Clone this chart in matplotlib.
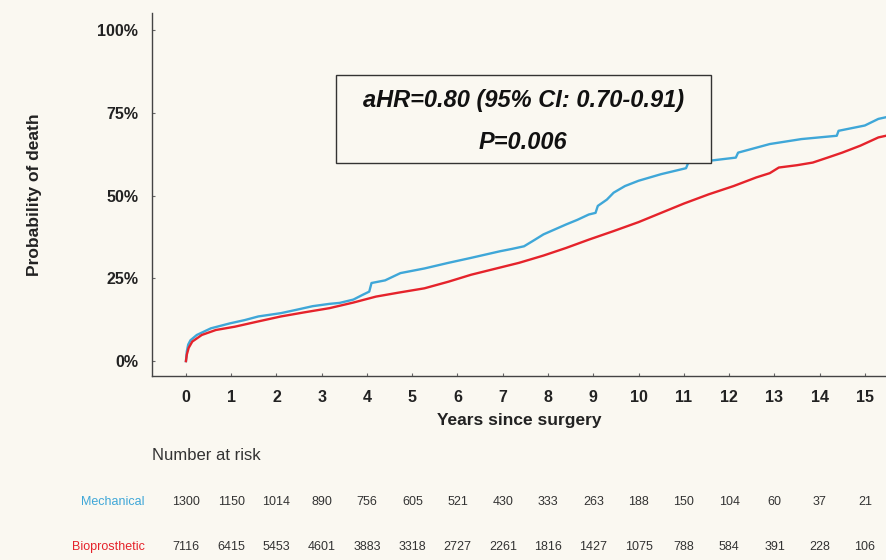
import matplotlib
matplotlib.use("Agg")
import matplotlib.pyplot as plt
from matplotlib.ticker import FuncFormatter
from matplotlib.patches import Rectangle

# ---- data ----
mech_t = [0, 0.02, 0.05, 0.1, 0.24, 0.55, 0.97, 1.3, 1.6, 2.1, 2.44, 2.8, 3.17, 3.4, 3.7, 3.9, 4.05, 4.1, 4.4,
          4.74, 5.27, 5.8, 6.3, 6.94, 7.2, 7.47, 7.7, 7.9, 8.15, 8.4, 8.65, 8.9, 9.05, 9.1, 9.3, 9.45, 9.7,
          10.0, 10.5, 11.05, 11.1, 11.6, 12.15, 12.2, 12.9, 13.6, 14.38, 14.42, 15.0, 15.3, 15.5]
mech_v = [0, 3.0, 5.0, 6.3, 7.9, 9.9, 11.4, 12.4, 13.5, 14.5, 15.5, 16.6, 17.3, 17.6, 18.6, 20.0, 21.0, 23.6, 24.4,
          26.6, 28.0, 29.7, 31.2, 33.2, 33.9, 34.7, 36.6, 38.3, 39.8, 41.3, 42.7, 44.3, 44.8, 46.9, 48.8, 50.9, 52.9,
          54.5, 56.5, 58.3, 60.0, 60.6, 61.5, 63.0, 65.6, 67.1, 68.1, 69.6, 71.2, 73.2, 73.8]

bio_t = [0, 0.02, 0.06, 0.14, 0.35, 0.66, 1.08, 1.6, 2.1, 2.6, 3.17, 3.7, 4.2, 4.7, 5.27, 5.8, 6.3, 6.8,
         7.36, 7.9, 8.4, 8.9, 9.45, 10.0, 10.5, 11.0, 11.55, 12.1, 12.6, 12.9, 13.1, 13.5, 13.85,
         14.2, 14.5, 14.9, 15.3, 15.5]
bio_v = [0, 2.0, 4.0, 5.9, 7.9, 9.4, 10.4, 12.0, 13.5, 14.7, 16.0, 17.7, 19.5, 20.7, 22.0, 24.0, 26.1, 27.8,
         29.7, 31.9, 34.2, 36.7, 39.3, 42.0, 44.8, 47.6, 50.4, 52.9, 55.5, 56.8, 58.5, 59.2, 60.0,
         61.6, 63.0, 65.1, 67.6, 68.2]

years = list(range(16))
risk_mech = [1300, 1150, 1014, 890, 756, 605, 521, 430, 333, 263, 188, 150, 104, 60, 37, 21]
risk_bio = [7116, 6415, 5453, 4601, 3883, 3318, 2727, 2261, 1816, 1427, 1075, 788, 584, 391, 228, 106]
yticks = [0, 25, 50, 75, 100]

BG = "#FAF8F1"
BLUE = "#3FA7D8"
RED = "#E5232B"
DARK = "#222222"

W, H = 887, 560
fig = plt.figure(figsize=(W / 100, H / 100), dpi=100, facecolor=BG)
ax = fig.add_axes([152 / W, 1 - 376 / H, 1 - 152 / W, (376 - 13) / H])
ax.set_facecolor(BG)

ax.plot(mech_t, mech_v, color=BLUE, lw=1.7, zorder=3, solid_joinstyle="round")
ax.plot(bio_t, bio_v, color=RED, lw=1.7, zorder=4, solid_joinstyle="round")

ax.set_xlim(-0.75, 15.49)
ax.set_ylim(-4.5, 105.2)
ax.set_xticks(years)
ax.set_yticks(yticks)
ax.yaxis.set_major_formatter(FuncFormatter(lambda v, p: f"{int(v)}%"))

for s in ["top", "right"]:
    ax.spines[s].set_visible(False)
for s in ["left", "bottom"]:
    ax.spines[s].set_color("#444444")
    ax.spines[s].set_linewidth(1.0)

ax.tick_params(axis="both", direction="in", length=2, width=0.8, color="#666666")
ax.tick_params(axis="y", pad=10)
ax.tick_params(axis="x", pad=10)
for lab in ax.get_xticklabels() + ax.get_yticklabels():
    lab.set_fontweight("bold")
    lab.set_fontsize(11.5)
    lab.set_color(DARK)
    lab.set_family("Liberation Sans")

ax.set_xlabel("Years since surgery", fontsize=12.5, fontweight="bold", color=DARK,
              family="Liberation Sans", labelpad=6)
fig.text(35 / W, 1 - 195 / H, "Probability of death", rotation=90, ha="center", va="center",
         fontsize=12.5, fontweight="bold", color=DARK, family="Liberation Sans")

# annotation box
ax.add_patch(Rectangle((3.31, 59.8), 11.6 - 3.31, 86.4 - 59.8, facecolor=BG,
                       edgecolor="#333333", lw=1.0, zorder=5))
ax.text(7.45, 78.9, "aHR=0.80 (95% CI: 0.70-0.91)", ha="center", va="center", fontsize=17,
        fontweight="bold", fontstyle="italic", color="#111111", family="Liberation Sans", zorder=6)
ax.text(7.45, 66.0, "P=0.006", ha="center", va="center", fontsize=17,
        fontweight="bold", fontstyle="italic", color="#111111", family="Liberation Sans", zorder=6)

# number at risk table
fig.text(152 / W, 1 - 455 / H, "Number at risk", ha="left", va="center", fontsize=12,
         color="#333333", family="Liberation Sans")
y_m = 1 - 502 / H
y_b = 1 - 547 / H
fig.text(145 / W, y_m, "Mechanical", ha="right", va="center", fontsize=9, color=BLUE,
         family="Liberation Sans")
fig.text(145 / W, y_b, "Bioprosthetic", ha="right", va="center", fontsize=9, color=RED,
         family="Liberation Sans")
for yr, m, b in zip(years, risk_mech, risk_bio):
    xf = (186 + yr * 45.27) / W
    fig.text(xf, y_m, str(m), ha="center", va="center", fontsize=9, color="#333333",
             family="Liberation Sans")
    fig.text(xf, y_b, str(b), ha="center", va="center", fontsize=9, color="#333333",
             family="Liberation Sans")

fig.savefig("out.png", dpi=100, facecolor=BG)
